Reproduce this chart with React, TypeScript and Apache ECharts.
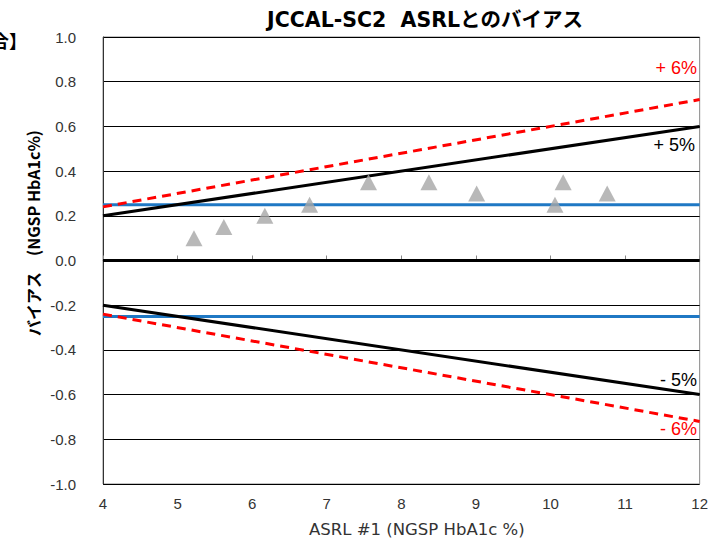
import React, { useEffect, useRef } from "react";
import * as echarts from "echarts";

const xTicks = [4, 5, 6, 7, 8, 9, 10, 11, 12];
const pointX = [5.22, 5.62, 6.17, 6.77, 7.56, 8.37, 9.01, 10.06, 10.17, 10.76];
const pointY = [0.1, 0.15, 0.2, 0.25, 0.35, 0.35, 0.3, 0.25, 0.35, 0.3];
const xRange = [4, 12];
const pct5 = 0.05;
const pct6 = 0.06;
const fixedLimit = 0.25;

const font = "'Liberation Sans', 'Noto Sans CJK JP', sans-serif";
const wideFont = "'DejaVu Sans', 'Noto Sans CJK JP', sans-serif";
const jpFont = "'Noto Sans CJK JP', 'Liberation Sans', sans-serif";

export default function App() {
  const ref = useRef<HTMLDivElement>(null);
  useEffect(() => {
    const chart = echarts.init(ref.current!, null, { renderer: "svg" });
    const lineData = (k: number) => xRange.map((x) => [x, k * x]);
    const flat = (v: number) => xRange.map((x) => [x, v]);
    const lineSeries = (data: number[][], color: string, type: any, z = 2) => ({
      type: "line",
      data,
      showSymbol: false,
      symbol: "none",
      lineStyle: { color, width: 3, type },
      silent: true,
      z,
    });
    chart.setOption({
      animation: false,
      title: {
        text: "JCCAL-SC2  ASRLとのバイアス",
        left: 420,
        top: 5,
        textAlign: "center",
        textStyle: { fontFamily: wideFont, fontSize: 20.5, fontWeight: "bold", color: "#000" },
      },
      grid: {
        left: 103,
        right: 7,
        top: 37,
        bottom: 62,
        show: true,
        borderColor: "#888",
        borderWidth: 1,
      },
      xAxis: {
        type: "value",
        min: 4,
        max: 12,
        interval: 1,
        name: "ASRL #1 (NGSP HbA1c %)",
        nameLocation: "middle",
        nameGap: 37,
        nameTextStyle: { fontFamily: wideFont, fontSize: 16.5, color: "#333", padding: [0, 0, 0, 31] },
        axisLine: { show: true, lineStyle: { color: "#888" } },
        axisTick: { show: true, inside: true, length: 5, lineStyle: { color: "#888" } },
        axisLabel: {
          fontFamily: font,
          fontSize: 15,
          color: "#333",
          margin: 12,
          formatter: (v: number) => (xTicks.includes(v) ? String(v) : ""),
        },
        splitLine: { show: false },
      },
      yAxis: {
        type: "value",
        min: -1,
        max: 1,
        interval: 0.2,
        axisLine: { show: true, lineStyle: { color: "#333" } },
        axisTick: { show: false },
        axisLabel: {
          fontFamily: font,
          fontSize: 15,
          color: "#333",
          margin: 27,
          formatter: (v: number) => v.toFixed(1),
        },
        splitLine: { show: true, lineStyle: { color: "#000", width: 1 } },
      },
      series: [
        lineSeries(flat(fixedLimit), "#1f78c4", "solid"),
        lineSeries(flat(-fixedLimit), "#1f78c4", "solid"),
        lineSeries(flat(0), "#000", "solid"),
        lineSeries(lineData(pct5), "#000", "solid", 3),
        lineSeries(lineData(-pct5), "#000", "solid", 3),
        lineSeries(lineData(pct6), "#ff0000", [9, 6], 4),
        lineSeries(lineData(-pct6), "#ff0000", [9, 6], 4),
        {
          type: "scatter",
          data: pointX.map((x, i) => [x, pointY[i]]),
          symbol: "triangle",
          symbolSize: [17, 16],
          itemStyle: { color: "#a6a6a6" },
          z: 5,
        },
      ],
      graphic: [
        {
          type: "text",
          x: 27,
          y: 40,
          style: { text: "【場合】", font: `bold 18px ${jpFont}`, fill: "#000", align: "right", verticalAlign: "middle" },
        },
        {
          type: "text",
          x: 33,
          y: 233,
          rotation: Math.PI / 2,
          style: {
            text: "バイアス　(NGSP HbA1c%)",
            font: `bold 16px ${jpFont}`,
            fill: "#000",
            align: "center",
            verticalAlign: "middle",
          },
        },
        {
          type: "text",
          x: 697,
          y: 68,
          style: { text: "+ 6%", font: `18px ${font}`, fill: "#ff0000", align: "right", verticalAlign: "middle" },
        },
        {
          type: "text",
          x: 695,
          y: 145,
          style: { text: "+ 5%", font: `18px ${font}`, fill: "#000", align: "right", verticalAlign: "middle" },
        },
        {
          type: "text",
          x: 697,
          y: 380,
          style: { text: "- 5%", font: `18px ${font}`, fill: "#000", align: "right", verticalAlign: "middle" },
        },
        {
          type: "text",
          x: 697,
          y: 429,
          style: { text: "- 6%", font: `18px ${font}`, fill: "#ff0000", align: "right", verticalAlign: "middle" },
        },
      ],
    });
    return () => chart.dispose();
  }, []);
  return (
    <div
      ref={ref}
      style={{ position: "fixed", left: 0, top: 0, width: 711, height: 546, background: "#fff" }}
    />
  );
}
